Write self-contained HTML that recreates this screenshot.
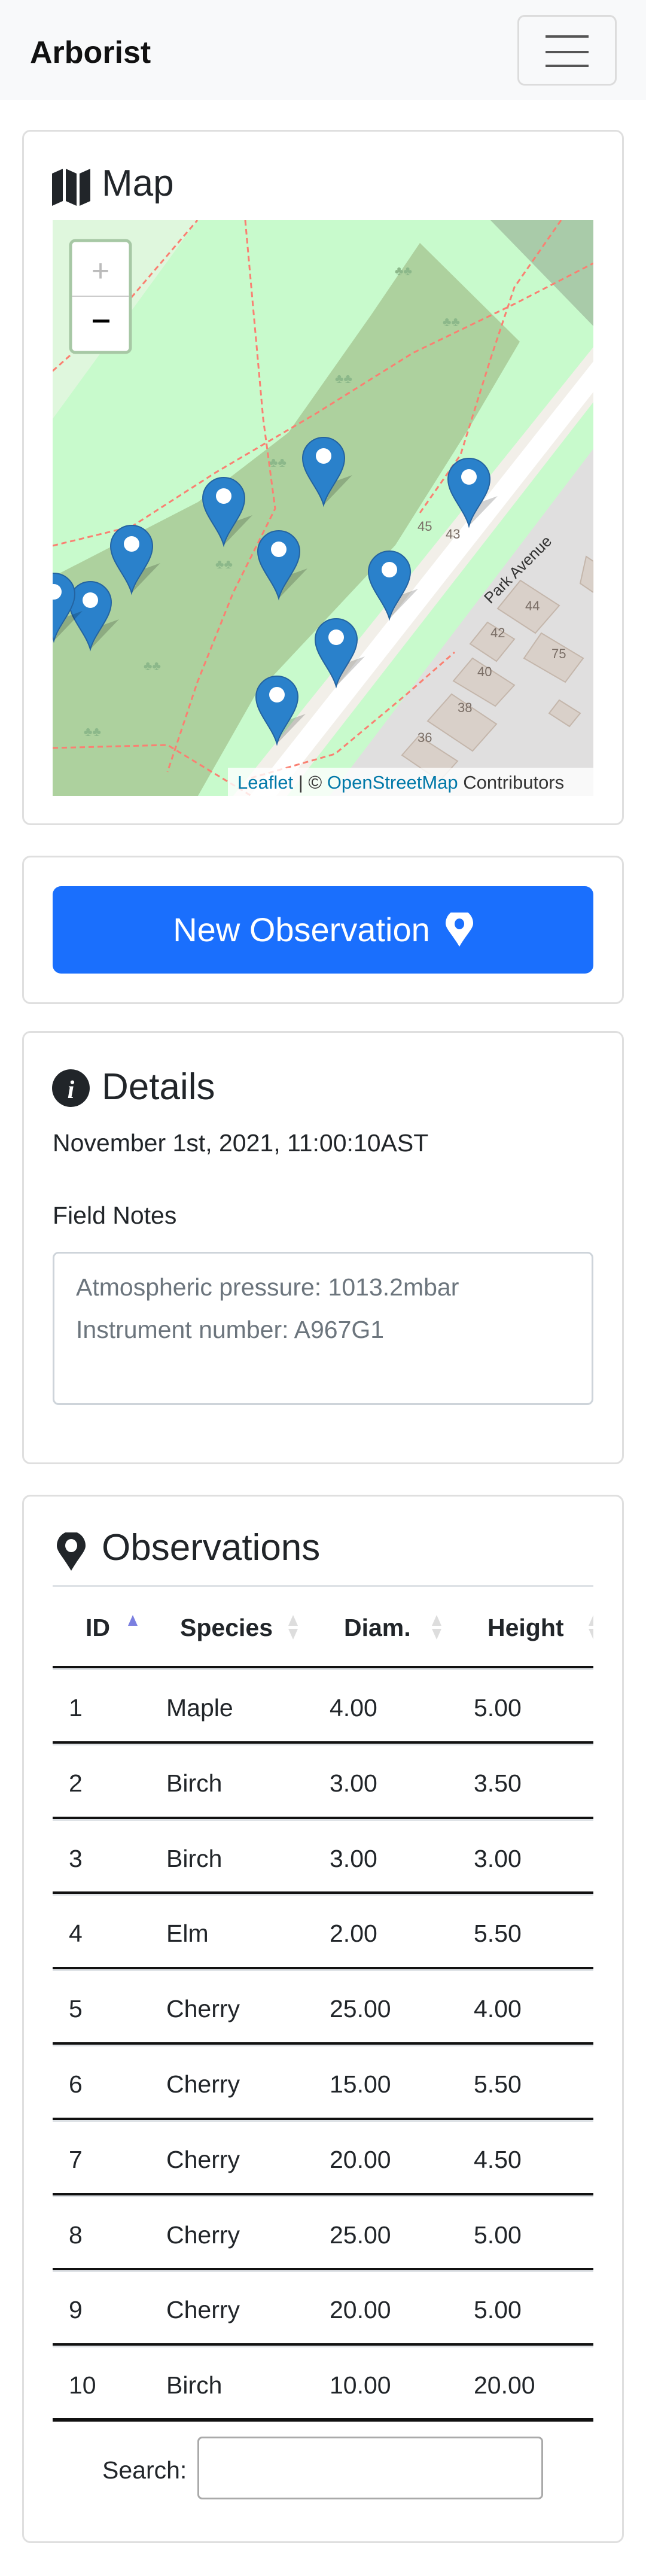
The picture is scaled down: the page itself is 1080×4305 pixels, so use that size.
<!DOCTYPE html>
<html><head><meta charset="utf-8">
<style>
*{box-sizing:border-box;margin:0;padding:0}
body{width:1080px;height:4305px;background:#fff;font-family:"Liberation Sans",sans-serif;color:#212529;position:relative;overflow:hidden}
.abs{position:absolute}
.card{position:absolute;left:37px;width:1006px;border:3px solid #dfdfdf;border-radius:14px;background:#fff}
.t{position:absolute;white-space:nowrap;line-height:1}
.hline{position:absolute;left:88px;width:904px}
</style></head><body>
<div class="abs" style="left:0;top:0;width:1080px;height:167px;background:#f8f9fa">
  <div class="t" style="left:50px;top:62px;font-size:52px;font-weight:bold;color:#111">Arborist</div>
  <div class="abs" style="left:865px;top:25px;width:166px;height:118px;border:3px solid #dcdcdc;border-radius:12px">
    <div class="abs" style="left:44px;top:31px;width:72px;height:4px;background:#555"></div>
    <div class="abs" style="left:44px;top:57px;width:72px;height:4px;background:#555"></div>
    <div class="abs" style="left:44px;top:80px;width:72px;height:4px;background:#555"></div>
  </div>
</div>

<div class="card" style="top:217px;height:1162px"></div>
<svg class="abs" style="left:87px;top:282px" width="64" height="62" viewBox="0 0 64 62"><path d="M0 8 L18 0 L18 54 L0 62Z M23 0 L41 8 L41 62 L23 54Z M46 8 L64 0 L64 54 L46 62Z" fill="#212529"/></svg>
<div class="t" style="left:170px;top:276px;font-size:62px">Map</div>

<svg class="abs" id="map" style="left:88px;top:368px" width="904" height="962" viewBox="88 368 904 962">
  <rect x="88" y="368" width="904" height="962" fill="#c8facc"/>
  <polygon points="88,368 330,368 88,700" fill="#dff7dd"/>
  <polygon points="820,368 992,368 992,545" fill="#a9cba9"/>
  <polygon points="702,406 869,571 785,714 661,911 427,1161 331,1330 88,1330 88,964 331,839 482,723 620,527" fill="#add19e"/>
  <polygon points="992,750 992,1330 551,1330" fill="#e0dfdf"/>
  <polygon points="992,580 992,672 480,1330 390,1330" fill="#f2efe9"/>
  <polygon points="992,604 992,655 462,1330 418,1330" fill="#fff"/>
  <g fill="#d9d0c9" stroke="#c4b6ab" stroke-width="2">
    <polygon points="870,970 935,1012 895,1058 832,1017"/>
    <polygon points="815,1040 860,1068 830,1105 786,1076"/>
    <polygon points="905,1058 975,1100 945,1140 876,1100"/>
    <polygon points="790,1100 860,1145 828,1180 758,1138"/>
    <polygon points="755,1160 830,1210 790,1255 715,1205"/>
    <polygon points="700,1230 765,1272 735,1305 672,1262"/>
    <polygon points="935,1170 970,1192 952,1214 918,1192"/>
    <polygon points="980,930 992,938 992,990 970,975"/>
  </g>
  <g fill="none" stroke="#fa8072" stroke-width="3" stroke-dasharray="9 6">
    <polyline points="88,912 220,880 360,790 530,690 690,590 860,508 992,440"/>
    <polyline points="410,368 440,700 460,850 390,990 330,1140 280,1290"/>
    <polyline points="88,620 200,520 330,368"/>
    <polyline points="938,368 860,480 820,600 770,760 700,860"/>
    <polyline points="88,1250 280,1245 420,1330"/>
    <polyline points="420,1300 560,1260 680,1160 760,1090"/>
  </g>
  <g fill="#8cb88a" font-size="22" font-family="Liberation Sans"><text x="660" y="460">♣♣</text><text x="740" y="545">♣♣</text><text x="560" y="640">♣♣</text><text x="450" y="780">♣♣</text><text x="360" y="950">♣♣</text><text x="240" y="1120">♣♣</text><text x="140" y="1230">♣♣</text></g>
  <text x="820" y="1010" font-size="26" fill="#333" font-family="Liberation Sans" transform="rotate(-45 820 1010)">Park Avenue</text>
  <g fill="#7a6e66" font-size="22" font-family="Liberation Sans"><text x="745" y="900">43</text><text x="698" y="887">45</text><text x="878" y="1020">44</text><text x="820" y="1065">42</text><text x="922" y="1100">75</text><text x="798" y="1130">40</text><text x="765" y="1190">38</text><text x="698" y="1240">36</text></g>
  <g id="markers"></g>
  <g>
    <rect x="118" y="402" width="100" height="187" rx="8" fill="#fff" stroke="#a7c8a5" stroke-width="5"/>
    <line x1="120" y1="495" x2="216" y2="495" stroke="#ccc" stroke-width="2"/>
    <text x="168" y="470" text-anchor="middle" font-size="52" fill="#bbb" font-family="Liberation Sans">+</text>
    <rect x="155" y="534" width="28" height="5" fill="#000"/>
  </g>
  <rect x="381" y="1283" width="611" height="47" fill="rgba(255,255,255,0.8)"/>
  <text x="397" y="1318" font-size="31" font-family="Liberation Sans" fill="#333"><tspan fill="#0078a8">Leaflet</tspan> | © <tspan fill="#0078a8">OpenStreetMap</tspan> Contributors</text>
</svg>

<div class="card" style="top:1430px;height:248px"></div>
<div class="abs" style="left:88px;top:1481px;width:904px;height:146px;background:#1a6ffd;border-radius:14px;display:flex;align-items:center;justify-content:center;gap:26px">
  <span style="font-size:56px;color:#fff;line-height:1;white-space:nowrap">New Observation</span>
  <svg width="46" height="58" viewBox="0 0 46 56"><path d="M23 56 C10 34 0 26 0 17 A23 23 0 0 1 46 17 C46 26 36 34 23 56Z M23 9 A8 9 0 1 0 23.1 9Z" fill="#fff" fill-rule="evenodd"/></svg>
</div>

<div class="card" style="top:1723px;height:724px"></div>
<svg class="abs" style="left:87px;top:1787px" width="63" height="63"><circle cx="31.5" cy="31.5" r="31.5" fill="#212529"/><text x="31.5" y="48" text-anchor="middle" font-size="42" font-style="italic" font-weight="bold" font-family="Liberation Serif" fill="#fff">i</text></svg>
<div class="t" style="left:170px;top:1786px;font-size:62px">Details</div>
<div class="t" style="left:88px;top:1890px;font-size:41px">November 1st, 2021, 11:00:10AST</div>
<div class="t" style="left:88px;top:2011px;font-size:41px">Field Notes</div>
<div class="abs" style="left:88px;top:2092px;width:904px;height:256px;border:3px solid #ced4da;border-radius:10px">
  <div class="t" style="left:36px;top:36px;font-size:41px;color:#6c757d">Atmospheric pressure: 1013.2mbar</div>
  <div class="t" style="left:36px;top:107px;font-size:41px;color:#6c757d">Instrument number: A967G1</div>
</div>

<div class="card" style="top:2498px;height:1752px"></div>
<svg class="abs" style="left:95px;top:2561px" width="48" height="64" viewBox="0 0 48 64"><path d="M24 64 C10 40 0 32 0 22 A24 24 0 0 1 48 22 C48 32 38 40 24 64Z M24 11 A10 11 0 1 0 24.1 11Z" fill="#212529" fill-rule="evenodd"/></svg>
<div class="t" style="left:170px;top:2556px;font-size:62px">Observations</div>
<div class="hline" style="top:2649px;height:3px;background:#dee2e6"></div>
<div class="abs" id="table" style="left:88px;top:2652px;width:904px;height:1400px;overflow:hidden"></div>

<div class="t" style="left:171px;top:4108px;font-size:41px">Search:</div>
<div class="abs" style="left:330px;top:4072px;width:578px;height:105px;border:3px solid #aaa;border-radius:8px"></div>

<script>
const markerX=[541,374,220,151,90,466,651,784,562,463];
const markerY=[844,911,991,1085,1071,1000,1034,879,1147,1243];
const ids=[1,2,3,4,5,6,7,8,9,10];
const species=["Maple","Birch","Birch","Elm","Cherry","Cherry","Cherry","Cherry","Cherry","Birch"];
const diam=["4.00","3.00","3.00","2.00","25.00","15.00","20.00","25.00","20.00","10.00"];
const height=["5.00","3.50","3.00","5.50","4.00","5.50","4.50","5.00","5.00","20.00"];
const headers=["ID","Species","Diam.","Height"];

const NS="http://www.w3.org/2000/svg";
const mg=document.getElementById('markers');
markerX.forEach((x,i)=>{
  const g=document.createElementNS(NS,'g');
  
  
  g.setAttribute('transform',`translate(${x},${markerY[i]})`);
  g.innerHTML=`<path d="M0 0 L20 -40 L48 -50 Z" fill="rgba(0,0,0,0.18)"/><path d="M0 0 C-8 -28 -35 -52 -35 -78 A35 35 0 1 1 35 -78 C35 -52 8 -28 0 0Z" fill="#2a81cb" stroke="#2463a0" stroke-width="2"/><circle cx="0" cy="-82" r="13" fill="#fff"/>`;
  mg.appendChild(g);
});

const tb=document.getElementById('table');
const hx=[55,213,487,727];
const dx=[27,190,463,704];
const sortCol=[126,394,634,896];
let h='';
headers.forEach((t,i)=>{
  h+=`<div class="t" style="left:${hx[i]}px;top:48px;font-size:41px;font-weight:bold">${t}</div>`;
  h+=`<div class="abs" style="left:${sortCol[i]}px;top:47px;width:0;height:0;border-left:8px solid transparent;border-right:8px solid transparent;border-bottom:18px solid ${i==0?'#7b7fe0':'#ddd'}"></div>`;
  if(i>0)h+=`<div class="abs" style="left:${sortCol[i]}px;top:70px;width:0;height:0;border-left:8px solid transparent;border-right:8px solid transparent;border-top:18px solid #ddd"></div>`;
});
h+=`<div class="abs" style="left:0;top:132px;width:904px;height:4px;background:#111"></div><div class="abs" style="left:0;top:136px;width:904px;height:3px;background:#dee2e6"></div>`;
const rowH=125.8;
ids.forEach((id,r)=>{
  const top=134+r*rowH;
  const vals=[id,species[r],diam[r],height[r]];
  vals.forEach((v,i)=>{
    h+=`<div class="t" style="left:${dx[i]}px;top:${top+48}px;font-size:41px">${v}</div>`;
  });
  const ly=top+rowH;
  if(r<ids.length-1){
    h+=`<div class="abs" style="left:0;top:${ly-2}px;width:904px;height:4px;background:#111"></div><div class="abs" style="left:0;top:${ly+2}px;width:904px;height:3px;background:#dee2e6"></div>`;
  }else{
    h+=`<div class="abs" style="left:0;top:${ly-3}px;width:904px;height:6px;background:#111"></div>`;
  }
});
tb.innerHTML=h;
</script>
</body></html>
